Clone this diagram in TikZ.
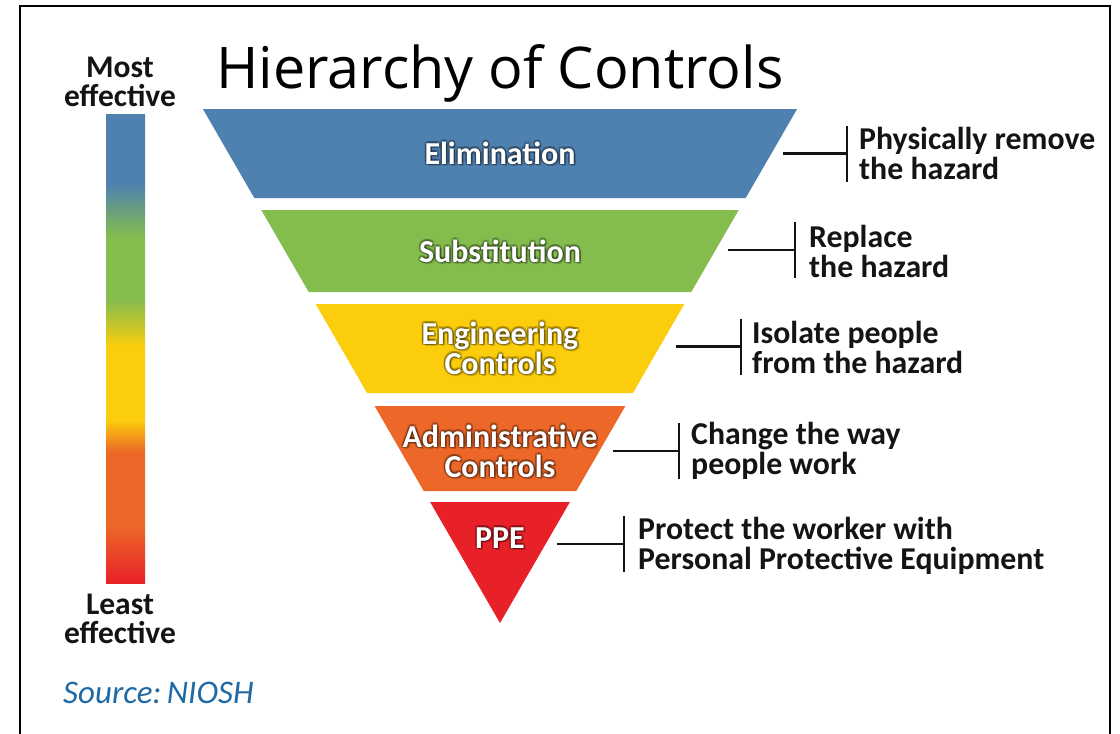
\documentclass[tikz,border=0pt]{standalone}
\usepackage{fontspec}
\newfontfamily\bodyfont{Carlito}
\newfontfamily\titlefont{Open Sans}
\definecolor{cblue}{RGB}{79,129,176}
\definecolor{cgreen}{RGB}{132,188,78}
\definecolor{cyellow}{RGB}{251,205,12}
\definecolor{corange}{RGB}{236,103,40}
\definecolor{cred}{RGB}{232,32,40}
\definecolor{csrc}{RGB}{31,106,165}
\definecolor{ctext}{RGB}{20,20,20}
\pgfdeclareverticalshading{effbar}{100bp}{color(0bp)=(cred); color(25bp)=(cred); color(31bp)=(corange); color(38.9bp)=(corange); color(42.4bp)=(cyellow); color(50.2bp)=(cyellow); color(55.2bp)=(cgreen); color(61.9bp)=(cgreen); color(67.6bp)=(cblue); color(100bp)=(cblue)}
\newcommand{\glowlabel}[3]{%
  \foreach \gx/\gy in {-1.5/0,1.5/0,0/-1.5,0/1.5,1.5/1.5,-1.5/1.5,1.5/-1.5,-1.5/-1.5,2/2}{
    \node[lbltxt, text=black, text opacity=0.16] at ([shift={(\gx,\gy)}]#2) {#3};}
  \node[lbltxt] (#1) at (#2) {#3};}
\begin{document}
\begin{tikzpicture}[x=1pt,y=-1pt,
  lbltxt/.style={font=\bodyfont\bfseries\fontsize{32}{30}\selectfont, text=white, align=center, inner sep=0pt},
  desc/.style={font=\bodyfont\bfseries\fontsize{31.8}{30}\selectfont, text=ctext, align=left, anchor=west, inner sep=0pt},
  side/.style={font=\bodyfont\bfseries\fontsize{31.5}{29.5}\selectfont, text=ctext, align=center, inner sep=0pt},
  brk/.style={line width=2.6pt, ctext}]
\useasboundingbox (0,0) rectangle (1120,734);
\fill[white] (0,0) rectangle (1120,734);
\draw[line width=2pt] (20,734) -- (20,6) -- (1110,6) -- (1110,734);
% title
\node[font=\titlefont\fontsize{57.5}{60}\selectfont, anchor=base, inner sep=0pt] (title) at (500,88) {Hierarchy of Controls};
% effectiveness bar
\node[side] (most) at (120,82) {Most\\effective};
\shade[shading=effbar] (106,114) rectangle (145,583);
\node[side] (least) at (120,619) {Least\\effective};
\node[font=\bodyfont\itshape\fontsize{33}{36}\selectfont, text=csrc, anchor=base west, inner sep=0pt] (src) at (63,703) {Source:\,NIOSH};
% inverted pyramid
\fill[cblue] (202.9,109) -- (797.1,109) -- (745.7,198) -- (254.3,198) -- cycle;
\fill[cgreen] (261.3,210) -- (738.7,210) -- (691.3,292) -- (308.7,292) -- cycle;
\fill[cyellow] (315.6,304) -- (684.4,304) -- (632.9,393) -- (367.1,393) -- cycle;
\fill[corange] (374.6,406) -- (625.4,406) -- (576.3,491) -- (423.7,491) -- cycle;
\fill[cred] (430.1,502) -- (569.9,502) -- (500,623) -- cycle;
\glowlabel{l1}{500,153}{Elimination}
\glowlabel{l2}{500,251}{Substitution}
\glowlabel{l3}{500,348}{Engineering\\Controls}
\glowlabel{l4}{500,451}{Administrative\\Controls}
\glowlabel{l5}{500,538}{PPE}
% descriptions
\node[desc] (d1) at (859,153.5) {Physically remove\\the hazard};
\node[desc] (d2) at (809,251) {Replace\\the hazard};
\node[desc] (d3) at (752,347) {Isolate people\\from the hazard};
\node[desc] (d4) at (691,451) {Change the way\\people work};
\node[desc] (d5) at (638,546) {Protect the worker with\\Personal Protective Equipment};
% brackets
\foreach \i/\xa/\xb/\yy in {1/783/847/153.5, 2/728/795/250, 3/676/741/346.5, 4/613/679/451, 5/557/624/544}{
  \coordinate (s\i) at (\xa,\yy);
  \coordinate (b\i) at (\xb,\yy);
  \draw[brk] (s\i) -- (b\i);
  \draw[brk] ([yshift=28pt]b\i) -- ([yshift=-28pt]b\i);
}
\end{tikzpicture}
\end{document}
